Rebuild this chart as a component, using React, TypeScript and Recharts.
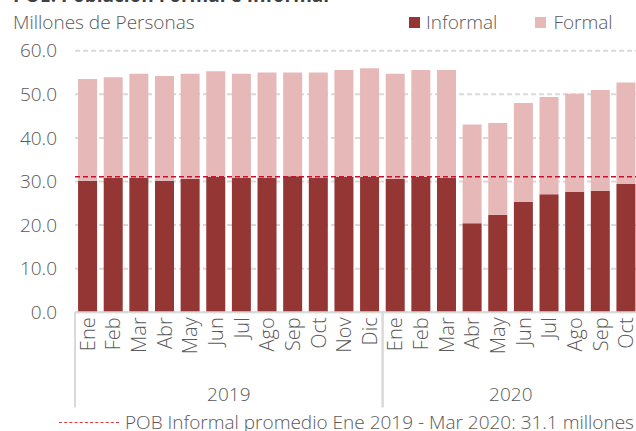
import React from "react";
import { ComposedChart, Bar, XAxis, YAxis, CartesianGrid, ReferenceLine } from "recharts";

const months = ["Ene", "Feb", "Mar", "Abr", "May", "Jun", "Jul", "Ago", "Sep", "Oct", "Nov", "Dic", "Ene", "Feb", "Mar", "Abr", "May", "Jun", "Jul", "Ago", "Sep", "Oct"];
const years = ["2019", "2019", "2019", "2019", "2019", "2019", "2019", "2019", "2019", "2019", "2019", "2019", "2020", "2020", "2020", "2020", "2020", "2020", "2020", "2020", "2020", "2020"];
const informal = [30.2, 30.8, 30.8, 30.2, 30.6, 31.1, 30.8, 30.8, 31.2, 30.8, 31.1, 31.1, 30.6, 31.1, 30.8, 20.4, 22.4, 25.3, 27.1, 27.6, 27.9, 29.4];
const formal = [23.3, 23.1, 23.9, 24.0, 24.1, 24.2, 23.9, 24.2, 23.8, 24.2, 24.5, 24.9, 24.1, 24.5, 24.8, 22.7, 21.0, 22.7, 22.3, 22.5, 23.1, 23.3];
const yTicks = [0, 10, 20, 30, 40, 50, 60];
const promedio = 31.1;

const data = months.map((m, i) => ({ key: i, mes: m, year: years[i], informal: informal[i], formal: formal[i] }));

const FONT = "'Open Sans', sans-serif";
const FS = 19;
const GREY = "#595959";
const DARK = "#943634";
const LIGHT = "#E6B8B7";

const CHART_W = 650;
const Y_W = 75;
const RIGHT = 11;
const PLOT_W = CHART_W - Y_W - RIGHT;

function MonthTick(props: any) {
  const { x, y, payload, index } = props;
  const band = PLOT_W / months.length;
  const year = years[index];
  const first = index === 0 || years[index - 1] !== year;
  const last = index === months.length - 1 || years[index + 1] !== year;
  const count = years.filter((v) => v === year).length;
  return (
    <g>
      <text
        x={x + 7}
        y={y + 5}
        transform={`rotate(-90 ${x + 7} ${y + 5})`}
        textAnchor="end"
        fontSize={20}
        fontWeight={300}
        fill={GREY}
        fontFamily={FONT}
      >
        {payload.value}
      </text>
      {first && <line x1={x - band / 2} x2={x - band / 2} y1={y} y2={y + 95} stroke="#D9D9D9" strokeWidth={2} />}
      {last && <line x1={x + band / 2} x2={x + band / 2} y1={y} y2={y + 95} stroke="#D9D9D9" strokeWidth={2} />}
      {first && (
        <text x={x - band / 2 + (count * band) / 2} y={y + 89} textAnchor="middle" fontSize={FS} fontWeight={300} fill={GREY} fontFamily={FONT}>
          {year}
        </text>
      )}
    </g>
  );
}

export default function App() {
  return (
    <div style={{ position: "fixed", left: 0, top: 0, width: 636, height: 431, overflow: "hidden", background: "#fff", fontFamily: FONT }}>
      <div style={{ position: "absolute", left: 13, top: -18, fontSize: FS, fontWeight: 700, color: "#404040", whiteSpace: "nowrap" }}>
        POE: Población Formal e Informal
      </div>
      <div style={{ position: "absolute", left: 13, top: 9, fontSize: FS, fontWeight: 300, color: GREY, whiteSpace: "nowrap" }}>
        Millones de Personas
      </div>
      <div style={{ position: "absolute", left: 409, top: 9, fontSize: FS, fontWeight: 300, color: GREY, display: "flex", alignItems: "center", whiteSpace: "nowrap" }}>
        <span style={{ display: "inline-block", width: 11, height: 11, background: DARK, marginRight: 6 }} />
        <span style={{ marginRight: 38 }}>Informal</span>
        <span style={{ display: "inline-block", width: 11, height: 11, background: LIGHT, marginRight: 7 }} />
        <span>Formal</span>
      </div>
      <ComposedChart
        width={CHART_W}
        height={431}
        data={data}
        margin={{ top: 50.7, right: RIGHT, left: 0, bottom: 0 }}
        barCategoryGap="12%"
      >
        <CartesianGrid vertical={false} stroke="#D9D9D9" strokeWidth={2} strokeDasharray="5 3" />
        <XAxis
          dataKey="key"
          height={118.7}
          interval={0}
          tickLine={false}
          tickSize={0}
          tickMargin={0}
          axisLine={{ stroke: "#D9D9D9", strokeWidth: 2 }}
          tick={(p: any) => <MonthTick {...p} payload={{ value: months[p.payload.value] }} />}
        />
        <YAxis
          width={Y_W}
          domain={[0, 60]}
          ticks={yTicks}
          interval={0}
          axisLine={false}
          tickLine={false}
          tickSize={0}
          tickMargin={18}
          tickFormatter={(v: number) => v.toFixed(1)}
          tick={{ fontSize: FS, fontWeight: 300, fill: GREY, fontFamily: FONT }}
        />
        <Bar dataKey="informal" stackId="a" fill={DARK} isAnimationActive={false} />
        <Bar dataKey="formal" stackId="a" fill={LIGHT} isAnimationActive={false} />
        <ReferenceLine y={promedio} stroke="#C8102E" strokeWidth={1.5} strokeDasharray="5 3" />
      </ComposedChart>
      <div style={{ position: "absolute", left: 59, top: 409, fontSize: FS, fontWeight: 300, color: GREY, display: "flex", alignItems: "center", whiteSpace: "nowrap" }}>
        <span style={{ display: "inline-block", width: 60, borderTop: "1.5px dashed #E0393E", marginRight: 6 }} />
        <span>POB Informal promedio Ene 2019 - Mar 2020: 31.1 millones</span>
      </div>
    </div>
  );
}
